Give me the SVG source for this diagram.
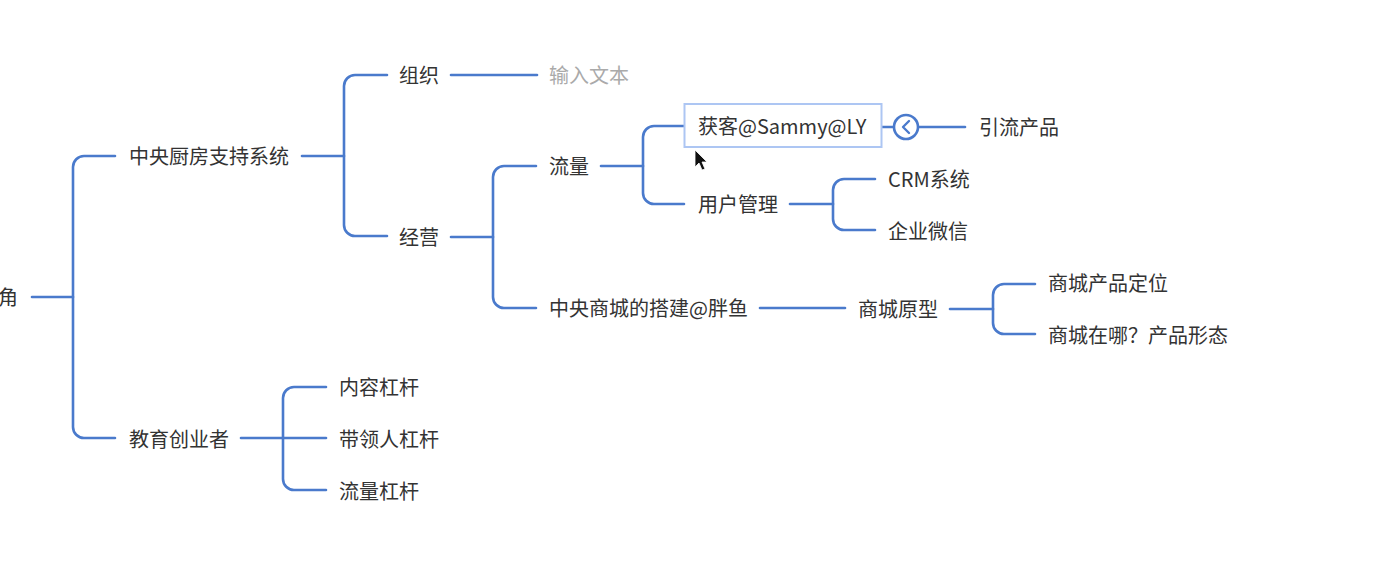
<svg xmlns="http://www.w3.org/2000/svg" width="1376" height="584" viewBox="0 0 1376 584">
<style>
.t{font-family:"Noto Sans CJK SC","Noto Sans",sans-serif;font-size:20px;fill:#333;dominant-baseline:central}
.g{fill:#aaa}
.c{fill:none;stroke:#4a7acc;stroke-width:2.6;stroke-linecap:round;stroke-linejoin:round}
</style>
<rect width="1376" height="584" fill="#fff"/>
<g id="connectors">
<path class="c" d="M32,297 H73"/>
<path class="c" d="M115,156 H84 A11,11 0 0 0 73,167 V427 A11,11 0 0 0 84,438 H115"/>
<path class="c" d="M302,156 H344"/>
<path class="c" d="M387,75 H355 A11,11 0 0 0 344,86 V225 A11,11 0 0 0 355,236 H387"/>
<path class="c" d="M451,75 H537"/>
<path class="c" d="M451,237 H493"/>
<path class="c" d="M536,166 H504 A11,11 0 0 0 493,177 V297 A11,11 0 0 0 504,308 H536"/>
<path class="c" d="M601,166 H643"/>
<path class="c" d="M684,126 H654 A11,11 0 0 0 643,137 V193 A11,11 0 0 0 654,204 H684"/>
<path class="c" d="M790,204 H833"/>
<path class="c" d="M875,179 H844 A11,11 0 0 0 833,190 V219 A11,11 0 0 0 844,230 H875"/>
<path class="c" d="M882,127 H894"/>
<path class="c" d="M918,127 H965"/>
<path class="c" d="M760,308 H845"/>
<path class="c" d="M950,309 H993"/>
<path class="c" d="M1035,284 H1004 A11,11 0 0 0 993,295 V323 A11,11 0 0 0 1004,334 H1035"/>
<path class="c" d="M241,438 H326"/>
<path class="c" d="M326,387 H294 A11,11 0 0 0 283,398 V479 A11,11 0 0 0 294,490 H326"/>
</g>
<g id="root"><text class="t" x="18" y="296" text-anchor="end">角</text></g>
<g id="n-zhongyang"><text class="t" x="129" y="155">中央厨房支持系统</text></g>
<g id="n-jiaoyu"><text class="t" x="129" y="438">教育创业者</text></g>
<g id="n-zuzhi"><text class="t" x="399" y="74">组织</text></g>
<g id="n-shuru"><text class="t g" x="549" y="74">输入文本</text></g>
<g id="n-jingying"><text class="t" x="399" y="236">经营</text></g>
<g id="n-liuliang"><text class="t" x="549" y="165">流量</text></g>
<g id="n-shangcheng"><text class="t" x="549" y="307">中央商城的搭建@胖鱼</text></g>
<g id="n-huoke">
<rect x="684.5" y="104" width="197" height="43" fill="#fff" stroke="#adc6f3" stroke-width="2"/>
<text class="t" x="698" y="125">获客@Sammy@LY</text>
</g>
<g id="n-collapse">
<circle cx="906" cy="127" r="12" fill="#fff" stroke="#4a7acc" stroke-width="2.6"/>
<path d="M909,121 L903,127 L909,133" fill="none" stroke="#4a7acc" stroke-width="2.4" stroke-linecap="round" stroke-linejoin="round"/>
</g>
<g id="n-yinliu"><text class="t" x="979" y="126">引流产品</text></g>
<g id="n-yonghu"><text class="t" x="698" y="203">用户管理</text></g>
<g id="n-crm"><text class="t" x="888" y="178">CRM系统</text></g>
<g id="n-qiye"><text class="t" x="888" y="230">企业微信</text></g>
<g id="n-yuanxing"><text class="t" x="858" y="308">商城原型</text></g>
<g id="n-dingwei"><text class="t" x="1048" y="282">商城产品定位</text></g>
<g id="n-xingtai"><text class="t" x="1048" y="334">商城在哪？产品形态</text></g>
<g id="n-neirong"><text class="t" x="339" y="386">内容杠杆</text></g>
<g id="n-dailing"><text class="t" x="339" y="438">带领人杠杆</text></g>
<g id="n-liuliang2"><text class="t" x="339" y="490">流量杠杆</text></g>
<polygon points="695,150 695,167 699,163 702,170 705,169 702,162 707,162" fill="#111" stroke="#fff" stroke-width="0.8"/>
</svg>
